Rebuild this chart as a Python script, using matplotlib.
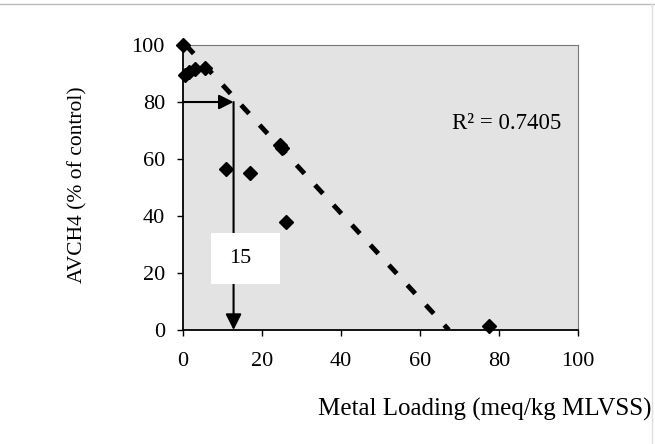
import matplotlib
matplotlib.use("Agg")
from matplotlib import pyplot as plt
from matplotlib.lines import Line2D
from matplotlib.patches import Rectangle

# metal loading (meq/kg MLVSS) vs methane activity (% of control)
loading = [0, 0.5, 1.5, 3, 5.5, 11, 17, 24.5, 25, 26, 77.5]
activity = [100, 89.5, 90.5, 91.5, 92, 56.5, 55, 65, 64, 38, 1.5]

# linear trend line
trend_x = [0.7, 67.3]
trend_y = [100, 0]
r2_text = "R\u00b2 = 0.7405"

# 50 % inhibition read-off
read_y = 80
read_x = 12.8
read_label = "15"

xticks = [0, 20, 40, 60, 80, 100]
yticks = [0, 20, 40, 60, 80, 100]

plt.rcParams['font.family'] = ['Liberation Serif', 'DejaVu Serif']

fig = plt.figure(figsize=(6.55, 4.44), dpi=100)
ax = fig.add_axes([0.2794, 0.2568, 0.6030, 0.6418])
ax.set_facecolor('#e3e3e3')

ax.plot(trend_x, trend_y, color='black', linewidth=3.5, dashes=(2.4, 3.2), zorder=3)
ax.plot(loading, activity, linestyle='none', marker='D', markersize=7,
        color='black', clip_on=False, zorder=4)

# arrows showing the read-off
ax.annotate("", xy=(read_x, read_y), xytext=(0, read_y),
            arrowprops=dict(arrowstyle='-|>', color='black', lw=1.5,
                            mutation_scale=22, shrinkA=0, shrinkB=0), zorder=5)
ax.annotate("", xy=(read_x, 0), xytext=(read_x, read_y),
            arrowprops=dict(arrowstyle='-|>', color='black', lw=1.5,
                            mutation_scale=24, shrinkA=0, shrinkB=0), zorder=5)
ax.add_patch(Rectangle((7, 16), 17.5, 18, facecolor='white', edgecolor='none', zorder=6))
ax.text(14.5, 25, read_label, ha='center', va='center', fontsize=16, zorder=7)

ax.text(68, 72.6, r2_text, ha='left', va='center', fontsize=16.5)

ax.set_xlim(0, 100)
ax.set_ylim(0, 100)
ax.set_xticks(xticks)
ax.set_yticks(yticks)
ax.tick_params(labelsize=16, length=4, width=1, direction='out')
ax.tick_params(axis='x', pad=12)
ax.tick_params(axis='y', pad=9)
for side in ['top', 'right']:
    ax.spines[side].set_color('#777777')
for side in ['left', 'bottom']:
    ax.spines[side].set_linewidth(1.3)

fig.text(0.995, 0.077, "Metal Loading (meq/kg MLVSS)", ha='right', va='center', fontsize=18)
fig.text(0.118, 0.583, "AVCH4 (% of control)", rotation=90, ha='center', va='center', fontsize=15.5)

# faint border of the original figure frame
fig.add_artist(Line2D([0, 1], [0.991, 0.991], color='#bbbbbb', lw=1))
fig.add_artist(Line2D([0.995, 0.995], [0, 0.991], color='#e0e0e0', lw=1))

fig.savefig("out.png", dpi=100)
